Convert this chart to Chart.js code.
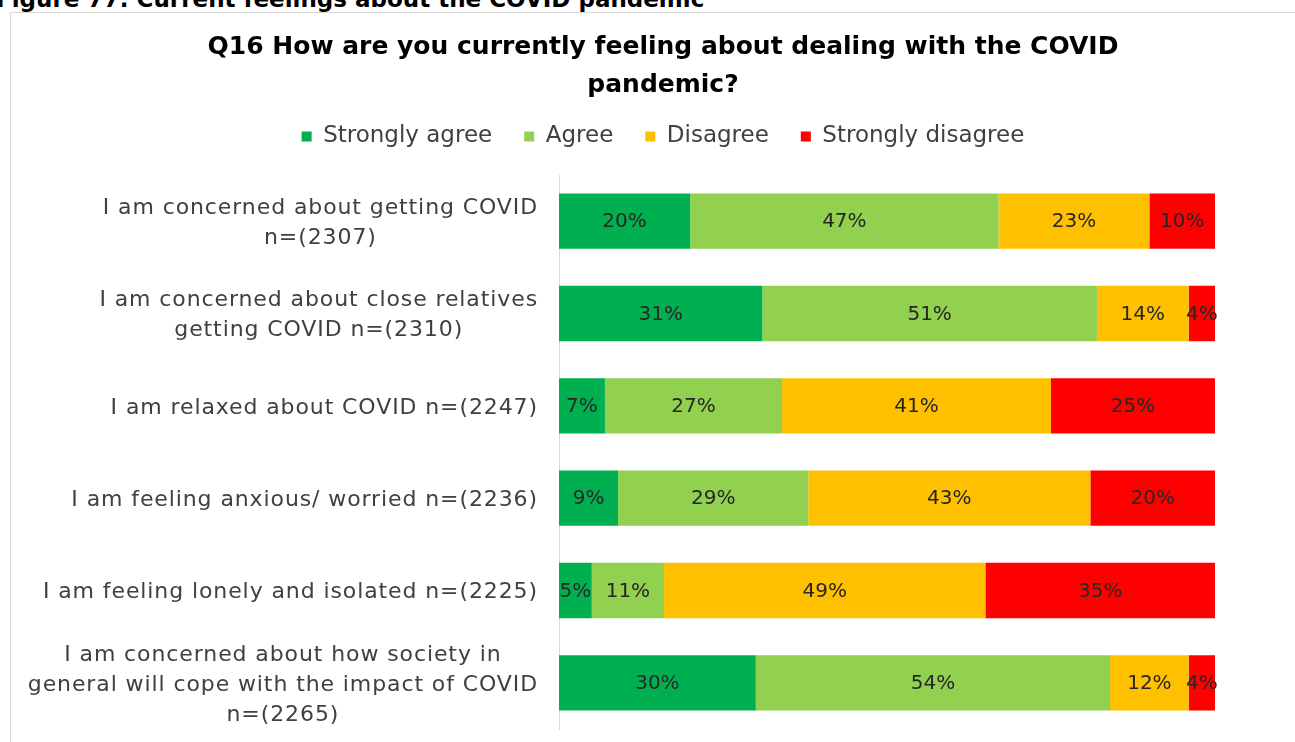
<!DOCTYPE html>
<html>
<head>
<meta charset="utf-8">
<script src="https://cdn.jsdelivr.net/npm/chart.js@4/dist/chart.umd.min.js"></script>
<style>
  html, body { margin: 0; padding: 0; background: #fff; overflow: hidden; }
  body { width: 1295px; height: 742px; position: relative; }
  #caption { position: absolute; left: -4px; top: -12px; font: bold 23px/23px "DejaVu Sans", sans-serif; color: #000; white-space: nowrap; }
  #frame { position: absolute; left: 10px; top: 12px; width: 1400px; height: 800px; border: 1px solid #d9d9d9; box-sizing: border-box; }
  #c { position: absolute; left: 0; top: 0; }
</style>
</head>
<body>
<div id="caption">Figure 77: Current feelings about the COVID pandemic</div>
<div id="frame"></div>
<canvas id="c" width="1295" height="742"></canvas>
<script>
// ---- data ----
const categories = [
  ['I am concerned about getting COVID', 'n=(2307)'],
  ['I am concerned about close relatives', 'getting COVID n=(2310)'],
  ['I am relaxed about COVID n=(2247)'],
  ['I am feeling anxious/ worried n=(2236)'],
  ['I am feeling lonely and isolated n=(2225)'],
  ['I am concerned about how society in', 'general will cope with the impact of COVID', 'n=(2265)']
];
const seriesNames = ['Strongly agree', 'Agree', 'Disagree', 'Strongly disagree'];
const stronglyAgree    = [20, 31, 7, 9, 5, 30];
const agree            = [47, 51, 27, 29, 11, 54];
const disagree         = [23, 14, 41, 43, 49, 12];
const stronglyDisagree = [10, 4, 25, 20, 35, 4];
const titleLines = ['Q16 How are you currently feeling about dealing with the COVID', 'pandemic?'];

const colors = ['#00B050', '#92D050', '#FFC000', '#FF0000'];
const FONT = '"DejaVu Sans", sans-serif';
Chart.defaults.font.family = FONT;

const TITLE_H = 93, LEGEND_H = 82;
const layoutFix = {
  id: 'layoutFix',
  beforeInit(chart) {
    const t = chart.titleBlock;
    const tu = t.update;
    t.update = function () { tu.apply(this, arguments); this.height = TITLE_H; this.bottom = this.top + TITLE_H; };
    const l = chart.legend;
    const lu = l.update;
    l.update = function () { lu.apply(this, arguments); this.height = LEGEND_H; this.bottom = this.top + LEGEND_H; };
  }
};

const yLabels = {
  id: 'yLabels',
  afterDraw(chart) {
    const ctx = chart.ctx;
    const y = chart.scales.y;
    ctx.save();
    ctx.font = '22px ' + FONT;
    if ('letterSpacing' in ctx) ctx.letterSpacing = '0.9px';
    ctx.fillStyle = '#404040';
    ctx.textAlign = 'center';
    ctx.textBaseline = 'middle';
    const rightEdge = 538, lh = 30;
    categories.forEach((lines, i) => {
      const cy = y.getPixelForTick(i);
      const w = Math.max(...lines.map(s => ctx.measureText(s).width));
      const cx = rightEdge - w / 2;
      lines.forEach((s, j) => {
        ctx.fillText(s, cx, cy + 2 + (j - (lines.length - 1) / 2) * lh);
      });
    });
    ctx.restore();
  }
};

const dataLabels = {
  id: 'dataLabels',
  afterDatasetsDraw(chart) {
    const ctx = chart.ctx;
    ctx.save();
    ctx.font = '20px ' + FONT;
    ctx.fillStyle = '#262626';
    ctx.textAlign = 'center';
    ctx.textBaseline = 'middle';
    chart.data.datasets.forEach((ds, di) => {
      const meta = chart.getDatasetMeta(di);
      meta.data.forEach((bar, i) => {
        const v = ds.data[i];
        const right = Math.min(bar.x, chart.chartArea.right);
        ctx.fillText(v + '%', (right + bar.base) / 2, bar.y + 1);
      });
    });
    ctx.restore();
  }
};

new Chart(document.getElementById('c'), {
  type: 'bar',
  data: {
    labels: categories,
    datasets: [stronglyAgree, agree, disagree, stronglyDisagree].map((d, i) => ({
      label: seriesNames[i],
      data: d,
      backgroundColor: colors[i],
      borderWidth: 0,
      barPercentage: 0.6,
      categoryPercentage: 1,
      clip: 0
    }))
  },
  options: {
    indexAxis: 'y',
    responsive: false,
    animation: false,
    layout: { padding: { top: 0, right: 80, bottom: 13, left: 111 } },
    scales: {
      x: { stacked: true, min: 0, max: 100, display: false },
      y: {
        stacked: true,
        grid: { display: false, drawTicks: false },
        border: { display: true, color: '#d9d9d9', width: 1 },
        ticks: { display: false },
        afterFit(scale) { scale.width = 448; }
      }
    },
    plugins: {
      tooltip: { enabled: false },
      title: {
        display: true,
        text: titleLines,
        color: '#000',
        font: { family: FONT, size: 25, weight: 'bold', lineHeight: '38px' },
        padding: { top: 28, bottom: 0 }
      },
      legend: {
        display: true,
        position: 'top',
        labels: {
          boxWidth: 10,
          boxHeight: 10,
          padding: 32,
          color: '#404040',
          font: { family: FONT, size: 23 }
        }
      }
    }
  },
  plugins: [layoutFix, yLabels, dataLabels]
});
</script>
</body>
</html>
